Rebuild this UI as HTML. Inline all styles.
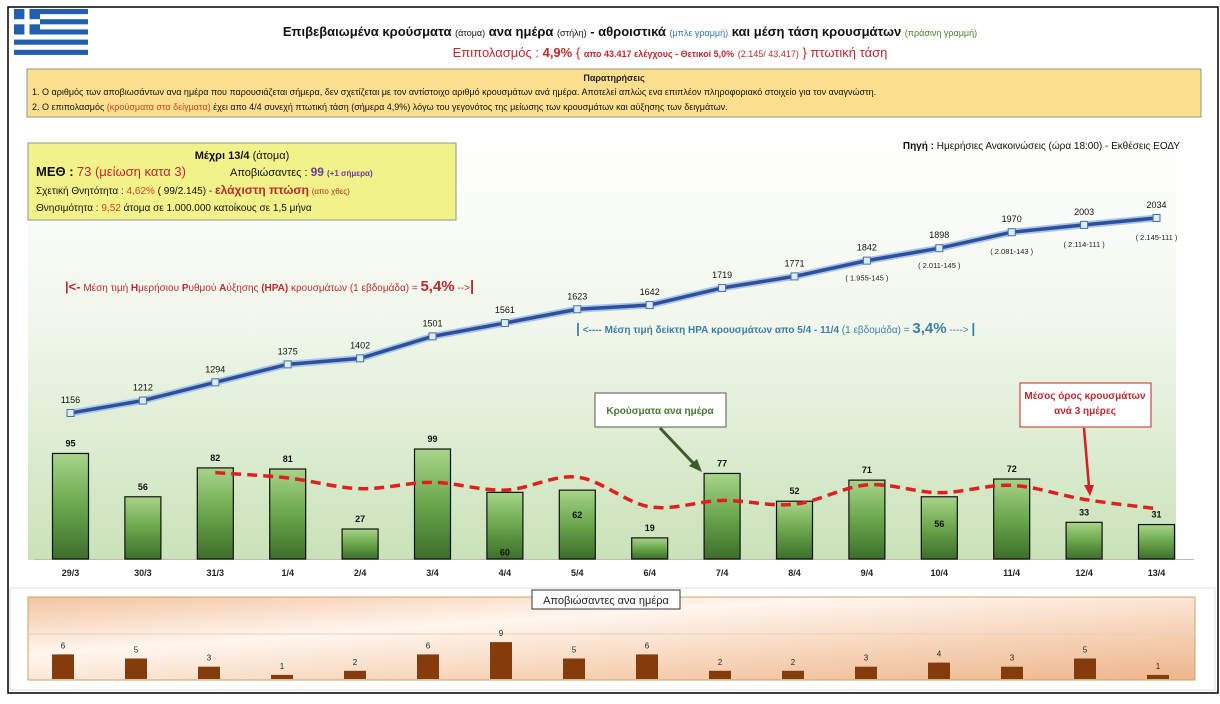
<!DOCTYPE html>
<html><head><meta charset="utf-8">
<style>
body{margin:0;width:1220px;height:699px;overflow:hidden;background:#fff;font-family:"Liberation Sans","DejaVu Sans",sans-serif;}
svg text{font-family:"Liberation Sans","DejaVu Sans",sans-serif;}
</style></head>
<body>
<svg id="c" width="1220" height="699" viewBox="0 0 1220 699" xmlns="http://www.w3.org/2000/svg">
<defs>
<linearGradient id="gbg" x1="0" y1="0" x2="0" y2="1">
<stop offset="0" stop-color="#ffffff"/><stop offset="0.45" stop-color="#f1f7ec"/><stop offset="1" stop-color="#c9e2b8"/></linearGradient>
<linearGradient id="gbar" x1="0" y1="0" x2="0" y2="1">
<stop offset="0" stop-color="#a8d48a"/><stop offset="0.5" stop-color="#6aa74c"/><stop offset="1" stop-color="#3c6e2a"/></linearGradient>
<linearGradient id="gor" x1="0" y1="0" x2="1" y2="1">
<stop offset="0" stop-color="#f3c4a0"/><stop offset="0.35" stop-color="#fff6ef"/><stop offset="0.7" stop-color="#f6d2b5"/><stop offset="1" stop-color="#eeb58c"/></linearGradient>
</defs>
<rect x="8" y="7" width="1210" height="686" fill="#fff" stroke="#000" stroke-width="1.5"/>
<g>
<rect x="14" y="9" width="74" height="46" fill="#fff"/>
<rect x="14" y="9" width="74" height="5.1" fill="#1f5fae"/><rect x="14" y="19.2" width="74" height="5.1" fill="#1f5fae"/><rect x="14" y="29.4" width="74" height="5.1" fill="#1f5fae"/><rect x="14" y="39.6" width="74" height="5.1" fill="#1f5fae"/><rect x="14" y="49.8" width="74" height="5.1" fill="#1f5fae"/>
<rect x="14" y="9" width="26" height="25.5" fill="#1f5fae"/><rect x="14" y="19.2" width="26" height="5.1" fill="#fff"/><rect x="24.4" y="9" width="5.1" height="25.5" fill="#fff"/>
</g>
<text x="630" y="36" text-anchor="middle" font-size="13" font-weight="bold" fill="#111">Επιβεβαιωμένα κρούσματα <tspan font-size="9" font-weight="normal">(άτομα)</tspan> ανα ημέρα <tspan font-size="9" font-weight="normal">(στήλη)</tspan> - αθροιστικά <tspan font-size="9" font-weight="normal" fill="#2e75b6">(μπλε γραμμή)</tspan> και μέση τάση κρουσμάτων <tspan font-size="9" font-weight="normal" fill="#4a7a30">(πράσινη γραμμή)</tspan></text>
<text x="670" y="57" text-anchor="middle" font-size="13" fill="#c0282d">Επιπολασμός : <tspan font-weight="bold">4,9%</tspan>  { <tspan font-size="9" font-weight="bold">απο 43.417 ελέγχους - Θετικοί 5,0%</tspan> <tspan font-size="9">(2.145/ 43.417)</tspan> } πτωτική τάση</text>
<g>
<rect x="27" y="69" width="1174" height="48" fill="#fcdf8e" stroke="#8a9a8a" stroke-width="1"/>
<text x="614" y="81" text-anchor="middle" font-size="9" font-weight="bold" fill="#222">Παρατηρήσεις</text>
<text x="32" y="95" font-size="9" fill="#111">1.  Ο αριθμός των αποβιωσάντων ανα ημέρα που παρουσιάζεται σήμερα, δεν σχετίζεται με τον αντίστοιχο αριθμό κρουσμάτων ανά ημέρα. Αποτελεί απλώς ενα επιπλέον πληροφοριακό στοιχείο για τον αναγνώστη.</text>
<text x="32" y="110" font-size="9" fill="#111">2.  Ο επιπολασμός  <tspan fill="#d2451e">(κρούσματα στα δείγματα)</tspan> έχει απο 4/4 συνεχή πτωτική τάση (σήμερα 4,9%) λόγω του γεγονότος της μείωσης των κρουσμάτων και αύξησης των δειγμάτων.</text>
</g>
<rect x="28" y="130" width="1148" height="430" fill="url(#gbg)"/>
<g>
<rect x="28" y="143" width="428" height="77" fill="#f2f28a" stroke="#8a9a8a"/>
<text x="242" y="159" text-anchor="middle" font-size="11" fill="#111"><tspan font-weight="bold">Μέχρι 13/4</tspan>  (άτομα)</text>
<text x="36" y="176" font-size="12" fill="#111"><tspan font-weight="bold" font-size="13">ΜΕΘ :</tspan> <tspan fill="#c0282d" font-size="13">73  (μείωση κατα 3)</tspan></text>
<text x="230" y="176" font-size="11" fill="#111">Αποβιώσαντες :   <tspan fill="#6a3d9a" font-weight="bold" font-size="12">99</tspan> <tspan fill="#6a3d9a" font-size="8" font-weight="bold">(+1 σήμερα)</tspan></text>
<text x="36" y="194" font-size="10" fill="#111">Σχετική Θνητότητα :  <tspan fill="#d2451e">4,62%</tspan>   ( 99/2.145) - <tspan fill="#c0282d" font-weight="bold" font-size="12">ελάχιστη πτώση</tspan> <tspan fill="#c0282d" font-size="8">(απο χθες)</tspan></text>
<text x="36" y="211" font-size="10" fill="#111">Θνησιμότητα :  <tspan fill="#d2451e">9,52</tspan> άτομα σε 1.000.000 κατοίκους σε 1,5 μήνα</text>
</g>
<text x="1180" y="149" text-anchor="end" font-size="10" fill="#111"><tspan font-weight="bold">Πηγή :</tspan>  Ημερήσιες Ανακοινώσεις (ώρα 18:00) - Εκθέσεις ΕΟΔΥ</text>
<text x="65" y="291" font-size="10" fill="#c0282d"><tspan font-weight="bold" font-size="13">|&lt;-</tspan> Μέση τιμή <tspan font-weight="bold">Η</tspan>μερήσιου <tspan font-weight="bold">Ρ</tspan>υθμού <tspan font-weight="bold">Α</tspan>ύξησης <tspan font-weight="bold">(ΗΡΑ)</tspan> κρουσμάτων (1 εβδομάδα) = <tspan font-weight="bold" font-size="15">5,4%</tspan> --&gt;<tspan font-weight="bold" font-size="15">|</tspan></text>
<text x="576" y="333" font-size="10" fill="#3d7fa8" font-weight="bold"><tspan font-size="14">|</tspan> &lt;---- Μέση τιμή δείκτη ΗΡΑ κρουσμάτων απο 5/4 - 11/4 <tspan font-weight="normal">(1 εβδομάδα) =</tspan>  <tspan font-size="15">3,4%</tspan> <tspan font-weight="normal">----&gt;</tspan> <tspan font-size="14">|</tspan></text>
<g id="main"></g>
<g>
<rect x="595" y="393" width="131" height="34" fill="#fff" stroke="#555"/>
<text x="660" y="414" text-anchor="middle" font-size="10" font-weight="bold" fill="#4a7a30">Κρούσματα ανα ημέρα</text>
<line x1="660" y1="428" x2="695" y2="465" stroke="#3c5a2a" stroke-width="3"/>
<polygon points="702,472 689,466 697,459" fill="#3c5a2a"/>
</g>
<g>
<rect x="1020" y="383" width="131" height="44" fill="#fff" stroke="#c0282d"/>
<text x="1085" y="399" text-anchor="middle" font-size="10" font-weight="bold" fill="#c0282d">Μέσος όρος κρουσμάτων</text>
<text x="1085" y="414" text-anchor="middle" font-size="10" font-weight="bold" fill="#c0282d">ανά 3 ημέρες</text>
<line x1="1084" y1="428" x2="1089" y2="487" stroke="#d42020" stroke-width="2.5"/>
<polygon points="1090,496 1084,485 1094,485" fill="#d42020"/>
</g>
<g>
<rect x="10" y="588" width="1205" height="102" fill="#fff" stroke="#ddd"/>
<rect x="28" y="597" width="1167" height="83" fill="url(#gor)" stroke="#c9a46a"/>
<line x1="28" y1="634" x2="1195" y2="634" stroke="#e8d0bc" stroke-width="1"/>
<g id="deaths"></g>
<rect x="532" y="590" width="148" height="19" fill="#fff" stroke="#333"/>
<text x="606" y="604" text-anchor="middle" font-size="11" fill="#222">Αποβιώσαντες ανα ημέρα</text>
</g>
</svg>
<script>
const dates=["29/3","30/3","31/3","1/4","2/4","3/4","4/4","5/4","6/4","7/4","8/4","9/4","10/4","11/4","12/4","13/4"];
const dailyCases=[95,56,82,81,27,99,60,62,19,77,52,71,56,72,33,31];
const cumulative=[1156,1212,1294,1375,1402,1501,1561,1623,1642,1719,1771,1842,1898,1970,2003,2034];
const movingAvg=[null,null,77.7,73,63.3,69,62,73.7,47,52.7,49.3,66.7,59.7,66.3,53.7,45.3];
const cumNotes=[null,null,null,null,null,null,null,null,null,null,null,"( 1.955-145 )","( 2.011-145 )","( 2.081-143 )","( 2.114-111 )","( 2.145-111 )"];
const deaths=[6,5,3,1,2,6,9,5,6,2,2,3,4,3,5,1];

const NS="http://www.w3.org/2000/svg";
function mk(tag,attrs,parent,txt){const e=document.createElementNS(NS,tag);for(const k in attrs)e.setAttribute(k,attrs[k]);if(txt!=null)e.textContent=txt;parent.appendChild(e);return e;}
function smooth(p){let d='M'+p[0][0]+','+p[0][1];for(let i=0;i<p.length-1;i++){const p0=p[i-1]||p[i],p1=p[i],p2=p[i+1],p3=p[i+2]||p2;const t=6;d+=' C'+(p1[0]+(p2[0]-p0[0])/t)+','+(p1[1]+(p2[1]-p0[1])/t)+' '+(p2[0]-(p3[0]-p1[0])/t)+','+(p2[1]-(p3[1]-p1[1])/t)+' '+p2[0]+','+p2[1];}return d;}
const xC=i=>70.5+i*72.4;
const yBar=v=>559-v*1.111;
const yCum=v=>413-(v-1156)*0.2221;
const yDeath=v=>679-v*4.1;
const main=document.getElementById('main');
const ax=mk('line',{x1:34,y1:559.5,x2:1194,y2:559.5,stroke:'#bbb'},main);


dates.forEach((d,i)=>{
 const b=mk('rect',{x:xC(i)-18,y:yBar(dailyCases[i]),width:36,height:559-yBar(dailyCases[i]),fill:'url(#gbar)',stroke:'#111','stroke-width':1.2},main);
 
 
 const inside=(i===6||i===7||i===12);
 const ly=inside?yBar(dailyCases[i])+(i===7?28:(i===6?63:30)):yBar(dailyCases[i])-7;
 const l=mk('text',{x:xC(i),y:ly,'text-anchor':'middle','font-size':9,'font-weight':'bold',fill:'#111'},main,String(dailyCases[i]));
 
 
 const t=mk('text',{x:xC(i),y:576,'text-anchor':'middle','font-size':9,'font-weight':'bold',fill:'#222'},main,d);
 
 
});
let pts=[];movingAvg.forEach((v,i)=>{if(v!=null)pts.push([xC(i),yBar(v)]);});
const ma=mk('path',{d:smooth(pts),fill:'none',stroke:'#e02020','stroke-width':3.5,'stroke-dasharray':'10,6','stroke-linejoin':'round'},main);


const cp=cumulative.map((v,i)=>xC(i)+','+yCum(v)).join(' ');
const glow=mk('polyline',{points:cp,fill:'none',stroke:'#a9c6ea','stroke-width':7},main);


const cl=mk('polyline',{points:cp,fill:'none',stroke:'#2f4f9a','stroke-width':3.5},main);


cumulative.forEach((v,i)=>{
 const m=mk('rect',{x:xC(i)-3.5,y:yCum(v)-3.5,width:7,height:7,fill:'#dcebf7',stroke:'#4a6fa5','stroke-width':1},main);
 
 
 const l=mk('text',{x:xC(i),y:yCum(v)-10,'text-anchor':'middle','font-size':9,fill:'#111'},main,String(v));
 
 
 if(cumNotes[i]){
  const n=mk('text',{x:xC(i),y:yCum(v)+(i>=13?22:20),'text-anchor':'middle','font-size':7.5,fill:'#222'},main,cumNotes[i]);
  
  
 }
});
const dg=document.getElementById('deaths');
deaths.forEach((v,i)=>{
 const x=63+i*73;
 const b=mk('rect',{x:x-11,y:yDeath(v),width:22,height:679-yDeath(v),fill:'#843c0c'},dg);
 
 
 const l=mk('text',{x:x,y:yDeath(v)-6,'text-anchor':'middle','font-size':8,fill:'#222'},dg,String(v));
 
 
});
</script>
</body></html>
